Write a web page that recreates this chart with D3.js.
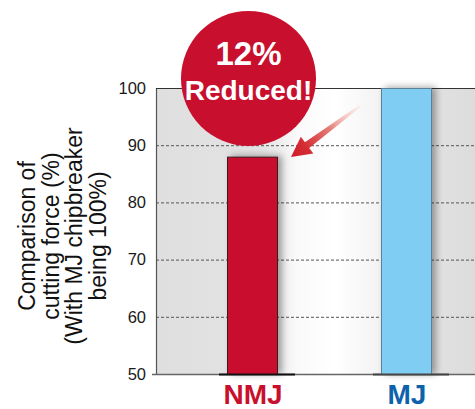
<!DOCTYPE html>
<html>
<head>
<meta charset="utf-8">
<script src="https://cdn.jsdelivr.net/npm/d3@7"></script>
<style>
  html, body { margin: 0; padding: 0; background: #fff; }
  svg { display: block; font-family: "Liberation Sans", Arial, Helvetica, sans-serif; }
</style>
</head>
<body>
<svg id="chart" width="475" height="409"></svg>
<script>
// Cutting force comparison: NMJ vs MJ chipbreaker (MJ = 100%)
const categories = ["NMJ", "MJ"];
const values = [88, 100];
const yTicks = [50, 60, 70, 80, 90, 100];
const axisTitleLines = ["Comparison of", "cutting force (%)", "(With MJ chipbreaker", "being 100%)"];
const calloutWord = "Reduced!";

const W = 475, H = 409;
const plot = { left: 156, right: 475, top: 88, bottom: 374 };

const fills = { NMJ: "#c8102e", MJ: "#7fcdf3" };
const strokes = { NMJ: "#3a1a1e", MJ: "#5c8197" };
const labelColors = { NMJ: "#c8102e", MJ: "#0c63ab" };
const baseColors = { NMJ: "#111", MJ: "#444" };

const svg = d3.select("#chart");
const defs = svg.append("defs");

const y = d3.scaleLinear().domain([50, 100]).range([plot.bottom, plot.top]);
const x = d3.scalePoint().domain(categories).range([252, 406]);
const barW = 50;

// plot background: grey at the edges, fading to white between the bars
const bg = defs.append("linearGradient").attr("id", "bgGrad")
  .attr("gradientUnits", "userSpaceOnUse")
  .attr("x1", plot.left).attr("x2", plot.right).attr("y1", 0).attr("y2", 0);
[[156, "#dfdfdf"], [262, "#e3e3e3"], [298, "#fafafa"], [335, "#ffffff"], [378, "#f3f3f3"], [432, "#e1e1e1"], [475, "#dcdcdc"]]
  .forEach(([px, c]) => bg.append("stop")
    .attr("offset", (px - plot.left) / (plot.right - plot.left)).attr("stop-color", c));

svg.append("rect")
  .attr("x", plot.left).attr("y", plot.top)
  .attr("width", plot.right - plot.left).attr("height", plot.bottom - plot.top)
  .attr("fill", "url(#bgGrad)");

// dashed grid
svg.append("g").selectAll("line")
  .data(yTicks.filter(t => t > 50 && t < 100))
  .join("line")
  .attr("x1", plot.left).attr("x2", plot.right)
  .attr("y1", d => y(d) + 0.5).attr("y2", d => y(d) + 0.5)
  .attr("stroke", "#555").attr("stroke-width", 1).attr("stroke-dasharray", "3,2");

// y axis
const yAxis = d3.axisLeft(y).tickValues(yTicks).tickSize(0).tickPadding(10);
const gy = svg.append("g").attr("transform", `translate(${plot.left},0)`).call(yAxis);
gy.select(".domain").remove();
gy.selectAll("text").attr("font-size", 16.5).attr("fill", "#1a1a1a")
  .attr("font-family", "'Liberation Sans', Arial, sans-serif");

// frame
svg.append("line").attr("x1", plot.left + 0.5).attr("x2", plot.left + 0.5)
  .attr("y1", plot.top).attr("y2", plot.bottom).attr("stroke", "#555").attr("stroke-width", 1.2);
svg.append("line").attr("x1", plot.left).attr("x2", plot.right)
  .attr("y1", plot.top + 0.5).attr("y2", plot.top + 0.5).attr("stroke", "#333").attr("stroke-width", 1.2);
svg.append("line").attr("x1", plot.left - 4).attr("x2", plot.right)
  .attr("y1", plot.bottom + 0.5).attr("y2", plot.bottom + 0.5).attr("stroke", "#666").attr("stroke-width", 1.5);

// bar shadow
const sh = defs.append("filter").attr("id", "barShadow")
  .attr("x", "-40%").attr("y", "-20%").attr("width", "180%").attr("height", "140%");
sh.append("feDropShadow").attr("dx", 4).attr("dy", -1).attr("stdDeviation", 3.5)
  .attr("flood-color", "#000").attr("flood-opacity", 0.35);

svg.append("g").selectAll("rect")
  .data(categories.map((c, i) => ({ c, v: values[i] })))
  .join("rect")
  .attr("x", d => x(d.c) - barW / 2 + 0.5)
  .attr("y", d => y(d.v) + 0.5)
  .attr("width", barW)
  .attr("height", d => y(50) - y(d.v))
  .attr("fill", d => fills[d.c])
  .attr("stroke", d => strokes[d.c])
  .attr("stroke-width", 1)
  .attr("filter", "url(#barShadow)");

// dark base segment under each bar
svg.append("g").selectAll("line")
  .data(categories)
  .join("line")
  .attr("x1", d => x(d) - barW / 2 - 8).attr("x2", d => x(d) + barW / 2 + 18)
  .attr("y1", plot.bottom + 0.5).attr("y2", plot.bottom + 0.5)
  .attr("stroke", d => baseColors[d]).attr("stroke-width", 2);

// category labels
svg.append("g").selectAll("text")
  .data(categories)
  .join("text")
  .attr("x", d => x(d) + 1).attr("y", 404)
  .attr("text-anchor", "middle")
  .attr("font-size", 28).attr("font-weight", "bold")
  .attr("fill", d => labelColors[d])
  .text(d => d);

// y-axis title
const title = svg.append("text")
  .attr("transform", "translate(0,236) rotate(-90)")
  .attr("text-anchor", "middle")
  .attr("font-size", 23).attr("fill", "#111");
axisTitleLines.forEach((line, i) => {
  title.append("tspan").attr("x", 0).attr("y", 35 + i * 23.5).text(line);
});

// arrow pointing to the reduced bar
const tip = [291, 157], tail = [360, 106];
const dx = tip[0] - tail[0], dy = tip[1] - tail[1];
const len = Math.hypot(dx, dy);
const u = [dx / len, dy / len], n = [-u[1], u[0]];
const headL = 20, headW = 10.5;
const hb = [tip[0] - headL * u[0], tip[1] - headL * u[1]];
const pt = (p, k, w) => [p[0] + k * u[0] + w * n[0], p[1] + k * u[1] + w * n[1]];
const arrowPts = [
  pt(tail, 0, 1.2), pt(hb, 0, 3.6), pt(hb, 0, headW), tip,
  pt(hb, 0, -headW), pt(hb, 0, -3.6), pt(tail, 0, -1.2)
];
const ag = defs.append("linearGradient").attr("id", "arrowGrad")
  .attr("gradientUnits", "userSpaceOnUse")
  .attr("x1", tail[0]).attr("y1", tail[1]).attr("x2", tip[0]).attr("y2", tip[1]);
ag.append("stop").attr("offset", 0).attr("stop-color", "#f4c8c4").attr("stop-opacity", 0.2);
ag.append("stop").attr("offset", 0.45).attr("stop-color", "#e47c74");
ag.append("stop").attr("offset", 0.8).attr("stop-color", "#d42b33");
ag.append("stop").attr("offset", 1).attr("stop-color", "#cf1f2c");
svg.append("path")
  .attr("d", d3.line()(arrowPts) + "Z")
  .attr("fill", "url(#arrowGrad)");

// callout badge
const reduction = Math.round(values[1] - values[0]);
svg.append("circle").attr("cx", 248.5).attr("cy", 78.5).attr("r", 67.5).attr("fill", "#c8102e");
svg.append("text").attr("x", 248.5).attr("y", 65)
  .attr("text-anchor", "middle").attr("font-size", 33).attr("font-weight", "bold")
  .attr("fill", "#fff").text(`${reduction}%`);
svg.append("text").attr("x", 248.5).attr("y", 100)
  .attr("text-anchor", "middle").attr("font-size", 28).attr("font-weight", "bold")
  .attr("fill", "#fff").text(calloutWord);
</script>
</body>
</html>
